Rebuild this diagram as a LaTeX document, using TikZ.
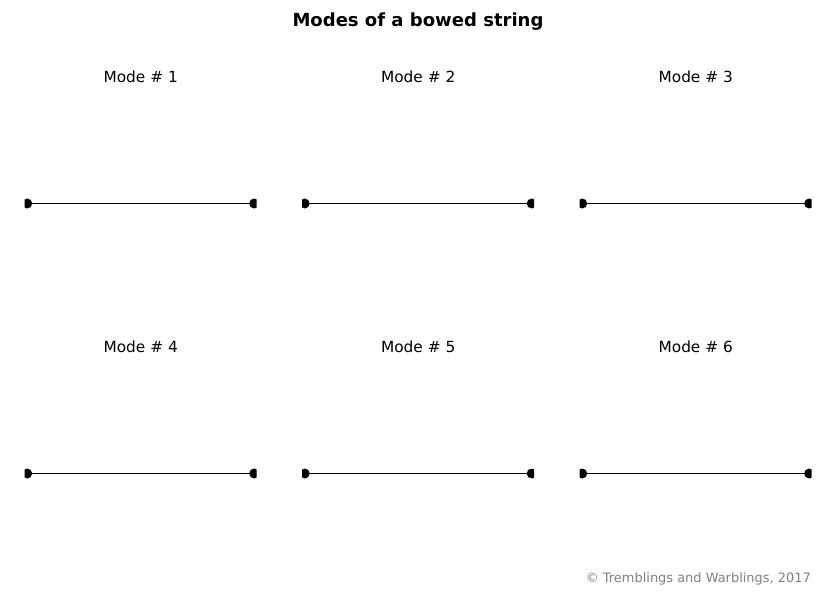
\documentclass[tikz,border=0pt]{standalone}
\usepackage{fontspec}
\setmainfont{DejaVu Sans}
\begin{document}
\begin{tikzpicture}[x=1bp,y=-1bp,
  dotnode/.style={circle,fill=black,inner sep=0pt,minimum size=10bp},
  stringline/.style={draw=black,line width=1.1bp},
  modetitle/.style={anchor=base,inner sep=0pt,font=\fontsize{15.4}{18}\selectfont},
  figtitle/.style={anchor=base,inner sep=0pt,font=\fontsize{18.1}{21}\selectfont\bfseries},
  credit/.style={anchor=base east,inner sep=0pt,text=black!50,font=\fontsize{13}{15}\selectfont}]
\useasboundingbox (0,0) rectangle (836,604);
\node[figtitle] (title) at (418,26.5) {Modes of a bowed string};
\foreach \i/\xl/\yc in {1/24.7/203.5,2/302.2/203.5,3/579.7/203.5,4/24.7/473.5,5/302.2/473.5,6/579.7/473.5}{
  \pgfmathsetmacro{\xr}{\xl+232}
  \pgfmathsetmacro{\xm}{\xl+116}
  \pgfmathsetmacro{\yt}{\yc-121}
  \node[modetitle] (t\i) at (\xm,\yt) {Mode \# \i};
  \begin{scope}
    \clip (\xl,\yc-115) rectangle (\xr,\yc+115);
    \node[dotnode] (l\i) at (\xl+2.5,\yc) {};
    \node[dotnode] (r\i) at (\xr-2.5,\yc) {};
    \draw[stringline] (l\i.center) -- (r\i.center);
  \end{scope}
}
\node[credit] (copy) at (811,582) {© Tremblings and Warblings, 2017};
\end{tikzpicture}
\end{document}
